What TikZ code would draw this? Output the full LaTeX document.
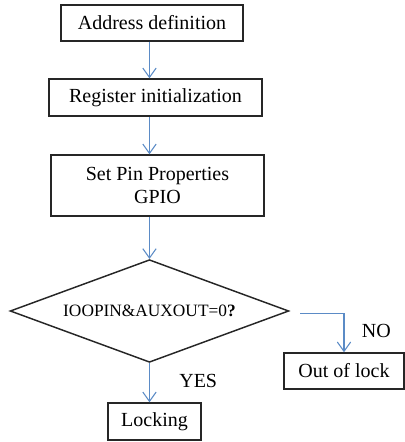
\documentclass[tikz,border=0pt]{standalone}
\usepackage{fontspec}
\setmainfont{Liberation Serif}
\usepackage{xcolor}
\usepackage{tikz}
\usetikzlibrary{arrows.meta, shapes.geometric, positioning}

\definecolor{lienbleu}{HTML}{5B8BC6}

\begin{document}
\begin{tikzpicture}[on grid, auto,
    box/.style={draw=black!85, line width=1.1pt, inner sep=0pt,
        font=\fontsize{15}{17}\selectfont, align=center},
    decision/.style={diamond, draw=black!85, line width=1.1pt, inner sep=0pt,
        shape aspect=2.7, minimum width=209pt, minimum height=77pt,
        font=\fontsize{13}{15}\selectfont},
    flow/.style={draw=lienbleu, line width=0.8pt,
        -{Straight Barb[length=7pt, width=10pt]}},
    etiquette/.style={font=\fontsize{15}{17}\selectfont, inner sep=0pt}]

                        \useasboundingbox (0,0) rectangle (303pt,-331.5pt);

                        % Définitions des blocs
                        \node[box, minimum width=136.5pt, minimum height=27pt] (addr) at (114pt,-17.25pt) {Address definition};
                        \node[box, minimum width=159.75pt, minimum height=27.75pt, below=55.9pt of addr, xshift=2.6pt] (reg) {Register initialization};
                        \node[box, minimum width=159.75pt, minimum height=45.75pt, below=66pt of reg, xshift=1.5pt] (gpio) {Set Pin Properties\\GPIO};
                        \node[decision, below=94.1pt of gpio, xshift=-6pt] (test) {IOOPIN\&AUXOUT=0\textbf{?}};
                        \node[box, minimum width=69.75pt, minimum height=27.75pt, below=82.9pt of test, xshift=3.8pt] (lock) {Locking};
                        \node[box, minimum width=90pt, minimum height=27pt, below right=45pt and 145.9pt of test] (out) {Out of lock};
                        \coordinate[right=8pt of test.east, yshift=-2pt] (nostart);

                        % Définition des liaisons
                        \draw[flow] (addr.south -| test.north) -- (reg.north -| test.north);
                        \draw[flow] (reg.south -| test.north) -- (gpio.north -| test.north);
                        \draw[flow] (gpio.south -| test.north) -- (test.north);
                        \draw[flow] (test.south) -- (test.south |- lock.north)
                            node[etiquette, pos=0.45, right=22pt] {YES};
                        \draw[flow] (nostart) -| (out.north)
                            node[etiquette, pos=0.72, right=13pt] {NO};

                    \end{tikzpicture}
\end{document}
